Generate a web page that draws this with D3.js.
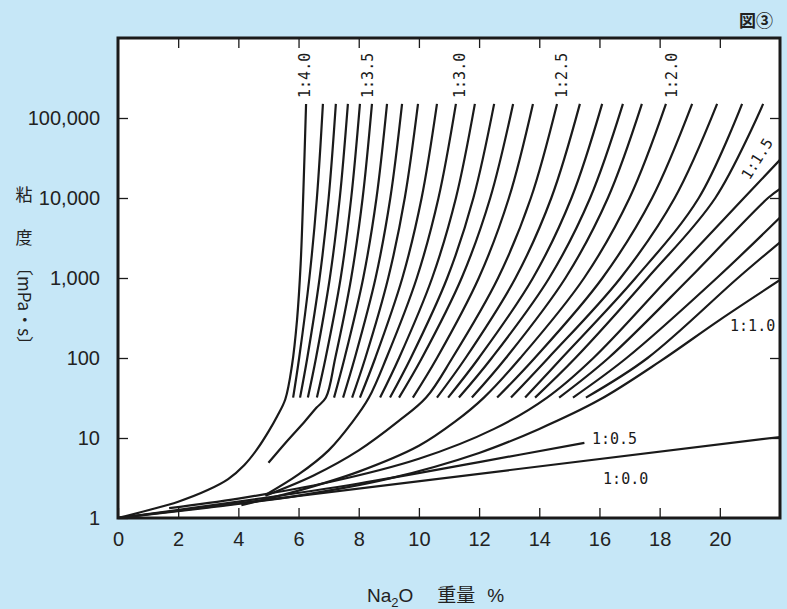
<!DOCTYPE html>
<html>
<head>
<meta charset="utf-8">
<script src="https://cdn.jsdelivr.net/npm/d3@7"></script>
<style>
  body { margin: 0; background: #c6e7f7; }
  svg { display: block; }
</style>
</head>
<body>
<svg width="787" height="609"></svg>
<script>
// axis ticks
var xTicks = [0, 2, 4, 6, 8, 10, 12, 14, 16, 18, 20];
var yTicks = [1, 10, 100, 1000, 10000, 100000];

// fan of ratio curves 1:3.9 .. 1:1.2, x (Na2O %) read where each curve crosses these viscosities
var viscLevels = [32, 100, 1000, 10000, 150000];
var fanRatios = [3.9, 3.8, 3.7, 3.6, 3.5, 3.4, 3.3, 3.2, 3.1, 3.0, 2.9, 2.8, 2.7, 2.6, 2.5,
                 2.4, 2.3, 2.2, 2.1, 2.0, 1.9, 1.8, 1.7, 1.6, 1.5, 1.4, 1.3, 1.2];
var xAt32   = [5.82, 6.05, 6.31, 6.61, 6.91, 7.18, 7.48, 7.78, 8.04, 8.34, 8.71, 9.04, 9.34, 9.80, 10.24,
               10.60, 10.97, 11.33, 11.76, 12.16, 12.60, 13.06, 13.53, 13.86, 14.26, 14.66, 15.12, 15.55];
var xAt100  = [6.02, 6.29, 6.58, 6.90, 7.22, 7.53, 7.87, 8.22, 8.55, 8.92, 9.34, 9.73, 10.10, 10.60, 11.11,
               11.55, 11.99, 12.42, 12.89, 13.37, 13.85, 14.3, 14.75, 15.2, 15.8, 16.3, 16.9, 17.6];
var xAt1k   = [6.36, 6.70, 7.04, 7.40, 7.75, 8.15, 8.56, 8.98, 9.45, 9.93, 10.44, 10.94, 11.42, 11.99, 12.63,
               13.21, 13.79, 14.33, 14.87, 15.49, 16.1, 16.7, 17.2, 17.6, 18.3, 19.0, 19.9, 20.6];
var xAt10k  = [6.61, 7.00, 7.37, 7.75, 8.13, 8.59, 9.05, 9.53, 10.09, 10.65, 11.23, 11.81, 12.37, 12.99, 13.72,
               14.40, 15.07, 15.69, 16.28, 17.00, 17.75, 18.5, 19.3, 19.85, 20.8, 21.6, null, null];
var xAtTop  = [6.81, 7.24, 7.64, 8.04, 8.44, 8.94, 9.44, 9.97, 10.60, 11.23, 11.86, 12.50, 13.13, 13.79, 14.59,
               15.35, 16.09, 16.78, 17.41, 18.21, 19.08, 19.91, 20.74, 21.44, null, null, null, null];
// viscosity where the curve leaves through the right frame (x = 22)
var edgeVisc = [null, null, null, null, null, null, null, null, null, null, null, null, null, null, null,
                null, null, null, null, null, null, null, null, null, 30000, 13000, 5700, 2800];

// labelled curves below the fan
var r40 = [[0, 1], [1, 1.25], [2, 1.6], [3, 2.25], [3.66, 3.06], [4.2, 4.6], [4.63, 7.3], [5.0, 12], [5.29, 18.7],
           [5.56, 30.5], [5.78, 80], [5.95, 300], [6.07, 1500], [6.16, 12000], [6.25, 150000]];
var r35Low = [[5.0, 4.9], [5.6, 9], [6.2, 16], [6.6, 24]];
var r30Low = [[4.9, 1.94], [6, 3.5], [7, 7], [7.8, 16]];
var r25Low = [[4.9, 1.9], [6.5, 3.4], [8, 7], [9.3, 16]];
var r20Low = [[4.1, 1.45], [6, 2.2], [8, 3.8], [10, 8], [11.2, 16]];
var r15Low = [[1.7, 1.33], [4, 1.75], [7, 2.8], [10, 5.5], [12.5, 13]];
var r10 = [[0, 1], [3, 1.35], [6, 1.9], [9, 3.1], [12, 6.5], [14, 13], [16, 30], [18, 90], [20, 300], [22, 944]];
var r05 = [[0, 1], [4, 1.6], [8, 2.7], [12, 5], [15.5, 8.7]];
var r00 = [[0, 1], [22, 10.3]];

var lowParts = {3.5: r35Low, 3.0: r30Low, 2.5: r25Low, 2.0: r20Low, 1.5: r15Low};

// curve labels: text, x, viscosity, rotation
var labelText = ["1:4.0", "1:3.5", "1:3.0", "1:2.5", "1:2.0", "1:1.5", "1:1.0", "1:0.5", "1:0.0"];
var labelX    = [6.21, 8.31, 11.37, 14.76, 18.41, 20.84, 20.34, 15.75, 16.12];
var labelV    = [178000, 178000, 178000, 178000, 178000, 17800, 218, 8.4, 2.66];
var labelRot  = [-90, -90, -90, -90, -90, -58, 0, 0, 0];

var svg = d3.select("svg"),
    margin = {top: 38, right: 7, bottom: 91, left: 118},
    width = +svg.attr("width") - margin.left - margin.right,
    height = +svg.attr("height") - margin.top - margin.bottom;

var x = d3.scaleLinear().domain([0, 22]).range([margin.left, margin.left + width]);
var y = d3.scaleLog().domain([1, 1e6]).range([margin.top + height, margin.top]);

svg.append("rect")
    .attr("x", margin.left).attr("y", margin.top)
    .attr("width", width).attr("height", height)
    .attr("fill", "#fff");

svg.append("clipPath").attr("id", "plot")
  .append("rect")
    .attr("x", margin.left).attr("y", margin.top)
    .attr("width", width).attr("height", height);

var line = d3.line()
    .x(d => x(d[0]))
    .y(d => y(d[1]))
    .curve(d3.curveCatmullRom.alpha(0.5));

var curves = [r40, r10, r05, r00];
fanRatios.forEach(function(r, i) {
  var pts = [];
  if (lowParts[r]) pts = lowParts[r].slice();
  [xAt32, xAt100, xAt1k, xAt10k, xAtTop].forEach(function(arr, k) {
    if (arr[i] != null) pts.push([arr[i], viscLevels[k]]);
  });
  if (edgeVisc[i] != null) pts.push([22, edgeVisc[i]]);
  curves.push(pts);
});

svg.append("g")
    .attr("clip-path", "url(#plot)")
  .selectAll("path")
  .data(curves)
  .enter().append("path")
    .attr("d", line)
    .attr("fill", "none")
    .attr("stroke", "#1a1a1a")
    .attr("stroke-width", 2.2);

// axes: ticks drawn inside the frame
var font = "'Liberation Sans', Arial, sans-serif";
var gx = svg.append("g")
    .attr("transform", `translate(0,${margin.top + height})`)
    .call(d3.axisBottom(x).tickValues(xTicks).tickSize(-10).tickPadding(14).tickFormat(d3.format("d")));
var gxTop = svg.append("g")
    .attr("transform", `translate(0,${margin.top})`)
    .call(d3.axisTop(x).tickValues(xTicks.slice(1)).tickSize(-10).tickFormat(""));
var gy = svg.append("g")
    .attr("transform", `translate(${margin.left},0)`)
    .call(d3.axisLeft(y).tickValues(yTicks).tickSize(-10).tickPadding(18).tickFormat(d3.format(",")));
var gyRight = svg.append("g")
    .attr("transform", `translate(${margin.left + width},0)`)
    .call(d3.axisRight(y).tickValues(yTicks.slice(1)).tickSize(-10).tickFormat(""));

[gx, gxTop, gy, gyRight].forEach(function(g) {
  g.select(".domain").remove();
  g.selectAll(".tick line").attr("stroke", "#1a1a1a").attr("stroke-width", 1.3);
  g.selectAll("text").style("font", "20px " + font).attr("fill", "#222");
});

svg.append("rect")
    .attr("x", margin.left).attr("y", margin.top)
    .attr("width", width).attr("height", height)
    .attr("fill", "none")
    .attr("stroke", "#1a1a1a")
    .attr("stroke-width", 3);

// curve labels
svg.append("g").selectAll("text")
  .data(labelText)
  .enter().append("text")
    .attr("transform", (d, i) => `translate(${x(labelX[i])},${y(labelV[i])}) rotate(${labelRot[i]})`)
    .attr("dy", (d, i) => labelRot[i] === 0 ? 0 : "0.35em")
    .style("font", "15px 'DejaVu Sans Mono', monospace")
    .attr("fill", "#1a1a1a")
    .text(d => d);

// axis titles
svg.append("text").attr("x", 24).attr("y", 201).attr("text-anchor", "middle")
    .style("font", "17px 'Noto Sans CJK JP', sans-serif").attr("fill", "#222").text("粘");
svg.append("text").attr("x", 24).attr("y", 244).attr("text-anchor", "middle")
    .style("font", "17px 'Noto Sans CJK JP', sans-serif").attr("fill", "#222").text("度");
svg.append("text").attr("transform", "translate(24,306) rotate(90)").attr("text-anchor", "middle")
    .attr("dy", "0.35em")
    .style("font", "17px 'Noto Sans CJK JP', sans-serif").attr("fill", "#222").text("〔mPa・s〕");

var xt = svg.append("text").attr("x", 367).attr("y", 602)
    .style("font", "19px " + font).attr("fill", "#222");
xt.append("tspan").text("Na");
xt.append("tspan").attr("dy", 5).style("font-size", "13px").text("2");
xt.append("tspan").attr("dy", -5).text("O");
xt.append("tspan").attr("dx", 24).style("font-family", "'Noto Sans CJK JP', sans-serif").text("重量");
xt.append("tspan").attr("dx", 12).text("%");

svg.append("text").attr("x", 773).attr("y", 27).attr("text-anchor", "end")
    .style("font", "bold 17px 'Noto Sans CJK JP', sans-serif").attr("fill", "#222").text("図③");
</script>
</body>
</html>
